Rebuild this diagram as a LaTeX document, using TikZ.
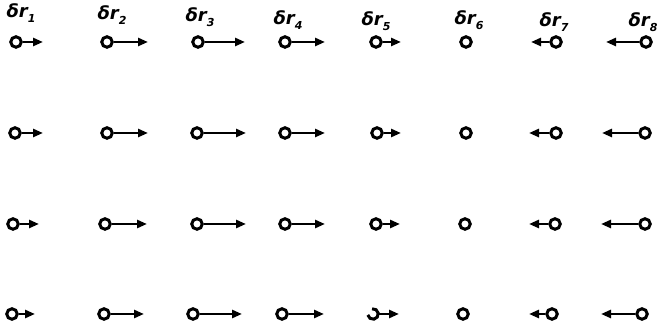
\documentclass[tikz,border=0pt]{standalone}
\usepackage{fontspec}
\newfontfamily\lblfont{DejaVu Sans}
\usetikzlibrary{arrows.meta}
\newcommand{\dr}[1]{δr\raisebox{-0.3em}{\fontsize{11}{11}\selectfont #1}}
\begin{document}
\begin{tikzpicture}[x=1pt,y=1pt,
  ball/.style={circle,draw,line width=3pt,minimum size=10.5pt,inner sep=0pt},
  ghost/.style={circle,minimum size=10.5pt,inner sep=0pt},
  vec/.style={line width=2.8pt,-{Triangle[length=10pt,width=8pt]}},
  lbl/.style={font=\lblfont\bfseries\itshape\fontsize{18}{18}\selectfont,inner sep=0pt}]
\useasboundingbox (0,0) rectangle (659,-328);
% labels
\foreach \i/\x/\y in {1/21/13,2/112/15,3/200/17,4/288/20,5/376/21,6/469/20,7/554/22,8/643/22}
  \node[lbl] (l\i) at (\x,-\y) {\dr{\i}};
% row 1
\foreach \c/\x/\t in {1/16/43,2/107/148,3/198/245,4/285/325,5/376/401,7/556/531,8/646/606}{
  \node[ball] (c1\c) at (\x,-42) {};
  \coordinate (t1\c) at (\t,-42);
  \draw[vec] (c1\c) -- (t1\c);}
\node[ball] (c16) at (466,-42) {};
% row 2
\foreach \c/\x/\t in {1/15/43,2/107/148,3/197/246,4/285/325,5/377/401,7/556/529,8/645/602}{
  \node[ball] (c2\c) at (\x,-133) {};
  \coordinate (t2\c) at (\t,-133);
  \draw[vec] (c2\c) -- (t2\c);}
\node[ball] (c26) at (466,-133) {};
% row 3
\foreach \c/\x/\t in {1/13/39,2/105/147,3/197/246,4/285/325,5/376/400,7/555/529,8/645/601}{
  \node[ball] (c3\c) at (\x,-224) {};
  \coordinate (t3\c) at (\t,-224);
  \draw[vec] (c3\c) -- (t3\c);}
\node[ball] (c36) at (465,-224) {};
% row 4
\foreach \c/\x/\t in {1/12/35,2/104/144,3/193/242,4/282/324,7/552/529,8/642/601}{
  \node[ball] (c4\c) at (\x,-314) {};
  \coordinate (t4\c) at (\t,-314);
  \draw[vec] (c4\c) -- (t4\c);}
\node[ball] (c46) at (463,-314) {};
\node[ghost] (c45) at (373,-314) {};
\coordinate (t45) at (399,-314);
\draw[line width=3pt] ([shift={(100:5.25)}]c45.center) arc[start angle=100, end angle=-170, radius=5.25];
\draw[vec] (c45) -- (t45);
\end{tikzpicture}
\end{document}
